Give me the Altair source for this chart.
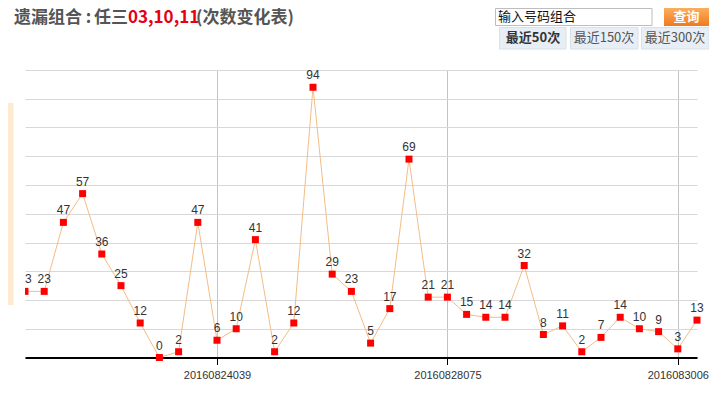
import altair as alt
import pandas as pd

# ---- text content ----
title_parts = ["遗漏组合", ":", "任三"]
title_combo = "03,10,11"
title_suffix = "(次数变化表)"
input_placeholder = "输入号码组合"
query_button = "查询"
range_buttons = ["最近50次", "最近150次", "最近300次"]

# ---- data ----
miss_values = [23, 23, 47, 57, 36, 25, 12, 0, 2, 47, 6, 10, 41, 2, 12, 94, 29, 23,
               5, 17, 69, 21, 21, 15, 14, 14, 32, 8, 11, 2, 7, 14, 10, 9, 3, 13]
tick_index = [10, 22, 34]
tick_labels = ["20160824039", "20160828075", "2016083006"]

df = pd.DataFrame({"idx": list(range(len(miss_values))), "value": miss_values})

label_expr = "''"
for i, lab in reversed(list(zip(tick_index, tick_labels))):
    label_expr = f"datum.value == {i} ? '{lab}' : ({label_expr})"

LAT = "Liberation Sans"
CJK = "Noto Sans CJK SC"

x_enc = alt.X(
    "idx:Q",
    scale=alt.Scale(domain=[0, len(miss_values) - 1], nice=False, zero=False),
    axis=alt.Axis(
        values=tick_index, labelExpr=label_expr, title=None,
        grid=True, gridColor="#c4c4c4", gridWidth=1,
        domainColor="#000000", domainWidth=2,
        tickColor="#000000", tickSize=7, tickWidth=1,
        labelFont=LAT, labelFontSize=11, labelColor="#333333",
        labelPadding=5, labelFlush=False, labelOverlap=False,
    ),
)
y_enc = alt.Y(
    "value:Q",
    scale=alt.Scale(domain=[0, 100], nice=False),
    axis=alt.Axis(
        values=list(range(0, 101, 10)), labels=False, ticks=False, domain=False,
        title=None, grid=True, gridColor="#d8d8d8", gridWidth=1,
    ),
)

base = alt.Chart(df).encode(x=x_enc, y=y_enc)
line = base.mark_line(color="#f3bd85", strokeWidth=1)
pts = base.mark_square(color="#ff0000", size=49, opacity=1, filled=True)
lbl = base.mark_text(font=LAT, fontSize=12, color="#333333", dy=-12, baseline="middle").encode(
    text="value:Q"
)

deco = alt.Chart(pd.DataFrame({"k": [0]}))


def rect(x1, x2, y1, y2, **kw):
    return deco.mark_rect(**kw).encode(
        x=alt.value(x1), x2=alt.value(x2), y=alt.value(y1), y2=alt.value(y2)
    )


def text(t, x, y, **kw):
    return deco.mark_text(text=t, baseline="middle", **kw).encode(x=alt.value(x), y=alt.value(y))


mask = rect(-17, 0, -8, 300, fill="#ffffff")
side = rect(-17, -11.5, 33, 235, fill="#fdebd0")

TY = -52.5
title_layers = [
    text(title_parts[0], -11, TY, align="left", font=CJK, fontSize=17, fontWeight="bold", color="#555555"),
    text(title_parts[1], 63.5, TY, align="center", font=CJK, fontSize=17, fontWeight="bold", color="#555555"),
    text(title_parts[2], 69, TY, align="left", font=CJK, fontSize=17, fontWeight="bold", color="#555555"),
    text(title_combo, 103, TY, align="left", font=CJK, fontSize=17, fontWeight="bold", color="#e60012"),
    text(title_suffix, 171, TY, align="left", font=CJK, fontSize=17, fontWeight="bold", color="#555555"),
]

orange = alt.Gradient(
    gradient="linear",
    stops=[alt.GradientStop(color="#fbae60", offset=0), alt.GradientStop(color="#f07a1c", offset=1)],
    x1=0, x2=0, y1=0, y2=1,
)

ui_layers = [
    rect(470.5, 627, -61.5, -44.5, fill="#ffffff", stroke="#bdbdbd", strokeWidth=1),
    text(input_placeholder, 473, -53, align="left", font=CJK, fontSize=13, color="#111111"),
    rect(639, 684, -62, -44, fill=orange),
    text(query_button, 661.5, -53, align="center", font=CJK, fontSize=13, fontWeight="bold", color="#ffffff"),
    rect(474.5, 541, -42.5, -21, fill="#e8eef6", stroke="#d8e0ea", strokeWidth=1),
    rect(545.5, 613, -42.5, -21, fill="#e8eef6", stroke="#d8e0ea", strokeWidth=1),
    rect(616.5, 684, -42.5, -21, fill="#e8eef6", stroke="#d8e0ea", strokeWidth=1),
    text(range_buttons[0], 508, -32, align="center", font=CJK, fontSize=13, fontWeight="bold", color="#333333"),
    text(range_buttons[1], 579, -32, align="center", font=CJK, fontSize=13, color="#555555"),
    text(range_buttons[2], 650, -32, align="center", font=CJK, fontSize=13, color="#555555"),
]

chart = alt.layer(line, pts, lbl, mask, side, *title_layers, *ui_layers).properties(
    width=672,
    height=287.5,
    autosize=alt.AutoSizeParams(type="none"),
    padding={"left": 17, "top": 62, "right": 12, "bottom": 23},
).configure_view(strokeWidth=0)

chart.save("out.html", embed_options={"renderer": "svg", "actions": False})
